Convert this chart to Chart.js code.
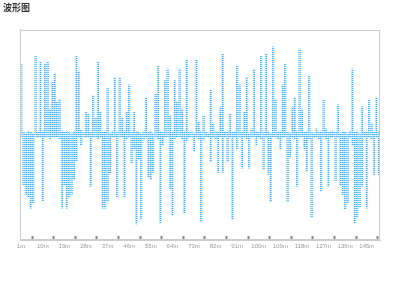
<!DOCTYPE html>
<html>
<head>
<meta charset="utf-8">
<script src="https://cdn.jsdelivr.net/npm/chart.js@4/dist/chart.umd.min.js"></script>
<style>
  body { margin: 0; background: #fff; }
</style>
</head>
<body>
<canvas id="wave" width="400" height="300"></canvas>
<script>
// minutes on the x axis, 1m .. 150m
labels = [];
for (var m = 1; m <= 150; m++) labels.push(m + 'm');

// values above zero
upper = [
  68, 3, 2, 4, 3, 2, 75, 3, 70, 4,
  68, 70, 25, 50, 59, 32, 34, 4, 3, 4,
  3, 2, 4, 75, 61, 5, 3, 22, 20, 3,
  38, 16, 70, 22, 3, 4, 45, 2, 4, 55,
  3, 55, 16, 4, 22, 48, 3, 22, 4, 3,
  2, 4, 36, 3, 4, 2, 39, 66, 4, 3,
  52, 63, 19, 3, 52, 32, 63, 25, 4, 72,
  3, 4, 2, 72, 13, 4, 18, 3, 2, 43,
  11, 4, 3, 27, 77, 3, 4, 20, 3, 4,
  66, 48, 3, 22, 55, 2, 6, 63, 4, 3,
  75, 3, 77, 4, 2, 84, 34, 3, 4, 48,
  68, 3, 2, 27, 36, 4, 82, 25, 3, 4,
  56, 3, 2, 6, 3, 4, 34, 6, 3, 4,
  4, 3, 29, 2, 4, 3, 2, 4, 63, 3,
  4, 2, 27, 3, 4, 34, 11, 3, 36, 4
];

// values below zero
lower = [
  -2, -48, -57, -60, -70, -65, -2, -3, -2, -63,
  -3, -2, -4, -2, -3, -2, -4, -70, -48, -70,
  -60, -57, -43, -25, -3, -10, -2, -3, -2, -49,
  -3, -2, -4, -3, -70, -70, -63, -37, -2, -3,
  -60, -3, -2, -60, -4, -3, -27, -14, -85, -24,
  -80, -5, -3, -40, -43, -36, -2, -4, -84, -10,
  -3, -2, -52, -77, -4, -3, -2, -4, -75, -6,
  -3, -2, -16, -3, -4, -83, -5, -2, -3, -26,
  -3, -4, -36, -2, -36, -3, -26, -2, -81, -3,
  -14, -3, -32, -2, -4, -32, -3, -2, -10, -3,
  -4, -33, -3, -38, -64, -2, -3, -4, -14, -3,
  -2, -64, -22, -3, -4, -49, -3, -2, -14, -35,
  -4, -79, -3, -2, -4, -54, -3, -4, -49, -3,
  -2, -44, -3, -48, -57, -71, -65, -3, -10, -84,
  -78, -69, -49, -3, -70, -3, -4, -38, -3, -38
];

// dotted fill for the bars: small bright dots on a pale ground
function dots() {
  var c = document.createElement('canvas');
  c.width = 2; c.height = 2;
  var g = c.getContext('2d');
  g.fillStyle = 'rgba(30,168,255,0.15)';
  g.fillRect(0, 0, 2, 2);
  g.fillStyle = 'rgba(30,168,255,0.9)';
  g.fillRect(0, 0, 1, 1);
  g.fillStyle = 'rgba(30,168,255,0.5)';
  g.fillRect(1, 0, 1, 1);
  return g.createPattern(c, 'repeat');
}

// thin frame round the plot
frame = {
  id: 'frame',
  afterDraw: function(chart) {
    var a = chart.chartArea, ctx = chart.ctx;
    ctx.save();
    ctx.strokeStyle = '#ccc';
    ctx.lineWidth = 1;
    ctx.strokeRect(Math.round(a.left) + 0.5, Math.round(a.top) + 0.5,
      Math.round(a.right - a.left) - 1, Math.round(a.bottom - a.top) - 1);
    ctx.restore();
  }
};

var pat = dots();

config = {
  type: 'bar',
  data: {
    labels: labels,
    datasets: [
      { data: upper, backgroundColor: pat, borderWidth: 0, barPercentage: 0.95, categoryPercentage: 1 },
      { data: lower, backgroundColor: pat, borderWidth: 0, barPercentage: 0.95, categoryPercentage: 1 }
    ]
  },
  options: {
    responsive: false,
    animation: false,
    layout: { padding: { left: 3, right: 20, top: 0, bottom: 0 } },
    plugins: {
      legend: { display: false },
      tooltip: { enabled: false },
      title: {
        display: true,
        text: '波形图',
        align: 'start',
        color: '#333',
        font: { size: 9, weight: 'bold', family: '"Noto Sans CJK SC", sans-serif' },
        padding: { top: 2, bottom: 17 }
      }
    },
    scales: {
      x: {
        stacked: true,
        border: { color: '#ccc' },
        grid: {
          offset: true,
          drawOnChartArea: false,
          tickLength: -4,
          tickWidth: 2,
          tickColor: function(c) { return c.index % 9 === 5 ? '#888' : 'rgba(0,0,0,0)'; }
        },
        ticks: {
          autoSkip: false,
          maxRotation: 0,
          padding: 7,
          color: '#999',
          font: { size: 6, family: '"Liberation Sans", sans-serif' },
          callback: function(v, i) { return i % 9 === 0 ? labels[i] : ''; }
        },
        afterFit: function(s) { s.height = 60; }
      },
      y: {
        stacked: true,
        min: -100,
        max: 100,
        ticks: { display: false },
        grid: { display: false },
        border: { color: '#ccc' },
        afterFit: function(s) { s.width = 17; }
      }
    }
  },
  plugins: [frame]
};

var myChart = new Chart(document.getElementById('wave'), config);
</script>
</body>
</html>
